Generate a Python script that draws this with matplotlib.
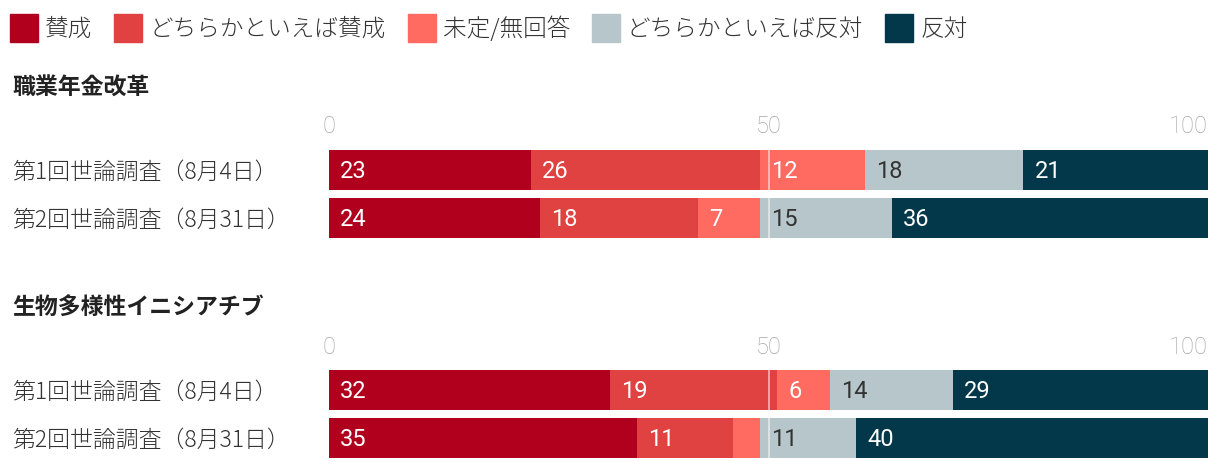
import matplotlib
matplotlib.use("Agg")
import matplotlib.pyplot as plt
from matplotlib import transforms
from matplotlib.patches import Rectangle

# ---------------- data ----------------
categories = ["賛成", "どちらかといえば賛成", "未定/無回答", "どちらかといえば反対", "反対"]
colors = ["#b0001e", "#e04141", "#ff6b61", "#b7c6ca", "#02384a"]
text_colors = ["white", "white", "white", "#333333", "white"]

groups = ["職業年金改革", "生物多様性イニシアチブ"]
rows = ["第1回世論調査（8月4日）", "第2回世論調査（8月31日）"]
pension = [[23, 26, 12, 18, 21],
           [24, 18, 7, 15, 36]]
biodiv = [[32, 19, 6, 14, 29],
          [35, 11, 3, 11, 40]]
ticks = [0, 50, 100]
LABEL_MIN = 5

JP = ["Noto Sans CJK JP", "DejaVu Sans"]
NUM = ["Roboto", "Noto Sans CJK JP", "DejaVu Sans"]

W, H = 1220, 470
fig = plt.figure(figsize=(W / 100, H / 100), dpi=100)

def fx(px): return px / W
def fy(py): return 1 - py / H

# ---------------- legend ----------------
renderer = fig.canvas.get_renderer()
x = 10
for cat, col in zip(categories, colors):
    fig.patches.append(Rectangle((fx(x), fy(42)), fx(28), 28 / H, color=col,
                                 transform=fig.transFigure, figure=fig))
    t = fig.text(fx(x + 35), fy(29), cat, family=JP, fontsize=17, color="#333333",
                 va="center", ha="left", fontweight="light")
    bb = t.get_window_extent(renderer)
    x = bb.x1 + 22

# ---------------- bars ----------------
BAR_PX, PITCH_PX = 40, 48
half = BAR_PX / 2 / PITCH_PX
ax_left, ax_right = 329, 1208
blocks = [(groups[0], pension, 88, 150), (groups[1], biodiv, 307, 370)]

for title, data, title_y, top in blocks:
    fig.text(fx(12), fy(title_y), title, family=JP, fontsize=16.5, fontweight="bold",
             color="#222222", va="center", ha="left")
    n = len(data)
    ax = fig.add_axes([fx(ax_left), fy(top + 88), fx(ax_right - ax_left), 88 / H])
    left = [0] * n
    for j, col in enumerate(colors):
        vals = [r[j] for r in data]
        ax.barh(range(n), vals, left=left, height=2 * half, color=col, linewidth=0)
        for i, v in enumerate(vals):
            if v >= LABEL_MIN:
                ax.annotate(str(v), (left[i], i), xytext=(11, -2), textcoords="offset pixels",
                            va="center", ha="left", color=text_colors[j],
                            family=NUM, fontsize=17)
        left = [a + b for a, b in zip(left, vals)]
    ax.axvline(50, color="white", lw=1.2, alpha=0.6)
    ax.set_xlim(0, 100)
    ax.set_ylim(n - 1 + half, -half)
    ax.axis("off")
    for tk in ticks:
        ha = "right" if tk == ticks[-1] else "center"
        ax.annotate(str(tk), (tk, -half), xytext=(0, 23), textcoords="offset pixels",
                    ha=ha, va="center", color="#a6a6a6", family=NUM, fontsize=17,
                    fontweight="light", annotation_clip=False)
    trans = transforms.blended_transform_factory(fig.transFigure, ax.transData)
    trans = trans + transforms.ScaledTranslation(0, -2 / 100, fig.dpi_scale_trans)
    for i, r in enumerate(rows):
        ax.text(fx(12), i, r, transform=trans, family=JP, fontsize=16.5, color="#333333",
                va="center", ha="left", fontweight="light")

fig.savefig("out.png", dpi=100)
